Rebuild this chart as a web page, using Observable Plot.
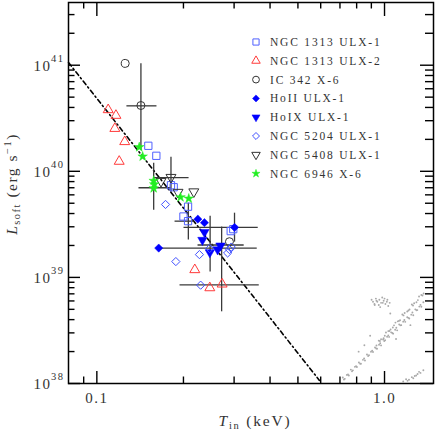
<!DOCTYPE html>
<html><head><meta charset="utf-8">
<script src="https://cdn.jsdelivr.net/npm/d3@7"></script>
<script src="https://cdn.jsdelivr.net/npm/@observablehq/plot@0.6"></script>
<style>
html,body{margin:0;padding:0;background:#fff;}
#chart{width:436px;height:433px;}
</style></head><body><div id="chart"></div>
<script>
// ---------- data ----------
const seriesNames = ["NGC 1313 ULX-1","NGC 1313 ULX-2","IC 342 X-6","HoII ULX-1","HoIX ULX-1","NGC 5204 ULX-1","NGC 5408 ULX-1","NGC 6946 X-6"];

const n1313u1T = [0.151, 0.161, 0.181, 0.185, 0.2075, 0.200, 0.2075, 0.292, 0.298];
const n1313u1L = [1.74e40, 1.40e40, 7.39e39, 7.08e39, 4.64e39, 3.75e39, 3.39e39, 2.73e39, 2.85e39];

const n1313u2T = [0.1095, 0.1165, 0.1155, 0.125, 0.1196, 0.219, 0.247, 0.2726];
const n1313u2L = [3.80e40, 3.36e40, 2.53e40, 1.90e40, 1.24e40, 1.18e39, 7.97e38, 8.64e38];

const ic342T = [0.1255, 0.1423, 0.289];
const ic342L = [1.04e41, 4.17e40, 2.17e39];

const hoIIT = [0.2244, 0.2366, 0.301, 0.1641];
const hoIIL = [3.54e39, 3.28e39, 2.96e39, 1.89e39];

const hoIXT = [0.2366, 0.2328, 0.247, 0.263, 0.269];
const hoIXL = [2.67e39, 2.25e39, 1.72e39, 1.83e39, 1.99e39];

const n5204T = [0.1733, 0.1882, 0.2273, 0.2295, 0.2466, 0.2849, 0.2891, 0.2931];
const n5204L = [4.87e39, 1.41e39, 1.64e39, 8.45e38, 1.87e39, 1.70e39, 1.83e39, 1.93e39];

const n5408T = [0.1671, 0.181, 0.1915, 0.2173];
const n5408L = [8.05e39, 8.78e39, 6.35e39, 6.42e39];

const n6946T = [0.1404, 0.1443, 0.1576, 0.1583, 0.1576, 0.1954, 0.2087];
const n6946L = [1.69e40, 1.38e40, 8.14e39, 7.55e39, 6.93e39, 5.70e39, 5.54e39];

// error bars
const hbarL   = [4.14e40, 8.73e39, 7.00e39, 3.39e39, 2.96e39, 2.02e39, 1.89e39, 8.50e38];
const hbarTlo = [0.1272, 0.158, 0.1401, 0.187, 0.2009, 0.2248, 0.1644, 0.1946];
const hbarThi = [0.1618, 0.2092, 0.181, 0.2178, 0.3639, 0.3252, 0.361, 0.3669];

const vbarT   = [0.1423, 0.181, 0.1576, 0.208, 0.301, 0.2476, 0.2715];
const vbarLlo = [1.575e40, 6.35e39, 4.30e39, 2.25e39, 2.15e39, 1.127e39, 4.74e38];
const vbarLhi = [1.033e41, 1.354e40, 1.189e40, 5.01e39, 4.03e39, 3.78e39, 2.98e39];

// dash-dot relation
const relT = [0.0797, 0.594];
const relL = [1.06e41, 1.07e38];

// grey comparison sample (log10 values)
const grayLogT = [
 -0.145,-0.138,-0.131,-0.124,-0.117,-0.110,-0.103,-0.096,-0.089,-0.082,-0.075,-0.068,-0.061,-0.054,
 -0.047,-0.040,-0.033,-0.026,-0.019,-0.012,-0.005,0.002,0.009,0.016,0.023,0.030,0.037,0.044,0.051,
 0.058,0.065,0.072,0.079,0.086,0.093,0.100,0.107,0.114,0.121,0.128,0.135,
 -0.141,-0.127,-0.113,-0.099,-0.085,-0.071,-0.057,-0.043,-0.029,-0.015,-0.001,0.013,0.027,0.041,
 0.055,0.069,0.083,0.097,0.111,0.125,
 -0.028,-0.020,-0.012,-0.003,0.005,0.013,0.021,0.029,0.038,0.046,0.054,0.062,0.070,0.079,0.087,
 0.095,0.103,0.111,0.120,0.128,0.136,
 -0.016,0.001,0.017,0.033,0.050,0.066,0.083,0.099,0.116,0.132,
 -0.045,-0.035,-0.030,-0.025,-0.020,-0.018,-0.012,-0.008,-0.003,0.003,0.008,0.013,-0.040,0.000,-0.015,0.018,
 -0.028,-0.006,0.010,-0.034,
 0.065,0.075,0.085,0.095,0.105,0.115,0.125,0.135,0.100,0.120,0.080,0.110,
 -0.090,-0.050,0.040,0.090,-0.070,0.020
];
const grayLogL = [
 38.056,38.044,38.081,38.075,38.131,38.124,38.157,38.155,38.198,38.186,38.223,38.217,38.273,38.266,
 38.299,38.297,38.340,38.328,38.365,38.359,38.415,38.408,38.441,38.439,38.482,38.470,38.507,38.501,38.557,
 38.550,38.583,38.581,38.624,38.612,38.649,38.643,38.699,38.692,38.725,38.723,38.766,
 38.038,38.085,38.115,38.162,38.187,38.236,38.259,38.309,38.331,38.379,38.401,38.454,38.476,38.526,
 38.548,38.598,38.619,38.669,38.690,38.741,
 38.358,38.404,38.417,38.426,38.480,38.494,38.509,38.528,38.574,38.586,38.596,38.650,38.664,38.679,38.698,
 38.744,38.756,38.766,38.820,38.834,38.848,
 38.400,38.450,38.495,38.548,38.590,38.642,38.688,38.735,38.786,38.830,
 38.79,38.75,38.80,38.77,38.74,38.79,38.76,38.81,38.78,38.75,38.77,38.73,38.77,38.80,38.72,38.76,
 38.78,38.76,38.79,38.74,
 38.02,38.04,38.035,38.06,38.07,38.09,38.10,38.125,38.05,38.11,38.025,38.075,
 38.30,38.45,38.42,38.55,38.36,38.66
];

// axis ticks
const xTickLabels = [0.1, 1.0];
const xMinorTicks = [0.09, 0.2, 0.3, 0.4, 0.5, 0.6, 0.7, 0.8, 0.9];
const yMajorTicks = [1e38, 1e39, 1e40, 1e41];
const yMinorTicks = [];
[38, 39, 40, 41].forEach(e => [2,3,4,5,6,7,8,9].forEach(m => { const v = m * 10 ** e; if (v < 3.9e41) yMinorTicks.push(v); }));

// ---------- layout / style ----------
const W = 436, H = 433, mL = 68, mR = 3, mT = 2, mB = 50;
const innerW = W - mL - mR, innerH = H - mT - mB;
const FONT = "'Liberation Serif', 'DejaVu Serif', serif";

const symbolTriangleDown = {
  draw(context, size) {
    const y = -Math.sqrt(size / (Math.sqrt(3) * 3));
    context.moveTo(0, -y * 2);
    context.lineTo(-Math.sqrt(3) * y, y);
    context.lineTo(Math.sqrt(3) * y, y);
    context.closePath();
  }
};
const symbolDiamond2 = d3.symbolDiamond2 || {
  draw(context, size) {
    const r = Math.sqrt(size) * 0.62625;
    context.moveTo(0, -r); context.lineTo(r, 0); context.lineTo(0, r); context.lineTo(-r, 0); context.closePath();
  }
};

const styles = [
  {symbol: d3.symbolSquare,    color: "#5060ff", filled: false, r: 4.1},
  {symbol: d3.symbolTriangle,  color: "#ff3a3a", filled: false, r: 3.7},
  {symbol: d3.symbolCircle,    color: "#333333", filled: false, r: 4.0},
  {symbol: symbolDiamond2,     color: "#0000ff", filled: true,  r: 3.7},
  {symbol: symbolTriangleDown, color: "#0000ff", filled: true,  r: 3.5},
  {symbol: symbolDiamond2,     color: "#4050ff", filled: false, r: 3.7},
  {symbol: symbolTriangleDown, color: "#333333", filled: false, r: 3.7},
  {symbol: d3.symbolStar,      color: "#22ee22", filled: true,  r: 3.0}
];

const seriesT = [n1313u1T, n1313u2T, ic342T, hoIIT, hoIXT, n5204T, n5408T, n6946T];
const seriesL = [n1313u1L, n1313u2L, ic342L, hoIIL, hoIXL, n5204L, n5408L, n6946L];

const hbars = hbarL.map((L, i) => ({L, lo: hbarTlo[i], hi: hbarThi[i]}));
const vbars = vbarT.map((T, i) => ({T, lo: vbarLlo[i], hi: vbarLhi[i]}));
const relRows = relT.map((T, i) => ({T, L: relL[i]}));
const grayRows = grayLogT.map((t, i) => ({T: 10 ** t, L: 10 ** grayLogL[i]}));

const dotMarks = seriesNames.map((name, i) => {
  const rows = seriesT[i].map((T, j) => ({T, L: seriesL[i][j]}));
  const s = styles[i];
  return Plot.dot(rows, {
    x: "T", y: "L", symbol: s.symbol, r: s.r,
    fill: s.filled ? s.color : "none",
    stroke: s.color,
    strokeWidth: s.filled ? 0.5 : 1.0
  });
});

const tk = {stroke: "black", strokeWidth: 1.4};
const plot = Plot.plot({
  width: W, height: H,
  marginLeft: mL, marginRight: mR, marginTop: mT, marginBottom: mB,
  x: {type: "log", domain: [0.0797, 1.48], axis: null},
  y: {type: "log", domain: [1e38, 3.9e41], axis: null},
  style: {fontFamily: FONT, background: "#fff", letterSpacing: "1.5px"},
  marks: [
    Plot.dot(grayRows, {x: "T", y: "L", r: 0.95, fill: "#a9a9a9", stroke: "none"}),
    Plot.line(relRows, {x: "T", y: "L", stroke: "black", strokeWidth: 1.6, strokeDasharray: "4.5,3,1.3,3"}),
    Plot.ruleY(hbars, {y: "L", x1: "lo", x2: "hi", stroke: "#3a3a3a", strokeWidth: 1.3}),
    Plot.ruleX(vbars, {x: "T", y1: "lo", y2: "hi", stroke: "#3a3a3a", strokeWidth: 1.3}),
    ...dotMarks,
    // ticks (inward)
    Plot.ruleX(xTickLabels, {x: d => d, insetTop: innerH - 12, ...tk}),
    Plot.ruleX(xTickLabels, {x: d => d, insetBottom: innerH - 14, ...tk}),
    Plot.ruleX(xMinorTicks, {x: d => d, insetTop: innerH - 6.5, ...tk}),
    Plot.ruleX(xMinorTicks, {x: d => d, insetBottom: innerH - 6.5, ...tk}),
    Plot.ruleY(yMajorTicks, {y: d => d, insetRight: innerW - 12, ...tk}),
    Plot.ruleY(yMajorTicks, {y: d => d, insetLeft: innerW - 13, ...tk}),
    Plot.ruleY(yMinorTicks, {y: d => d, insetRight: innerW - 6.5, ...tk}),
    Plot.ruleY(yMinorTicks, {y: d => d, insetLeft: innerW - 8, ...tk}),
    // tick labels
    Plot.text(xTickLabels, {x: d => d, frameAnchor: "bottom", dy: 19, text: d => d.toFixed(1), fontSize: 15, fill: "#333"}),
    Plot.text(yMajorTicks, {y: d => d, frameAnchor: "left", dx: -17, dy: 1, textAnchor: "end", text: d => "10", fontSize: 15, fill: "#333"}),
    Plot.text(yMajorTicks, {y: d => d, frameAnchor: "left", dx: -17.5, dy: -7, textAnchor: "start", text: d => String(Math.round(Math.log10(d))), fontSize: 10.5, fill: "#333"}),
    Plot.frame({stroke: "black", strokeWidth: 1.5})
  ]
});

document.getElementById("chart").appendChild(plot);

// ---------- overlay: legend + axis titles ----------
const svg = d3.select(plot);
const lg = svg.append("g")
  .attr("font-family", FONT).attr("font-size", 11.5).attr("letter-spacing", "1.8px")
  .attr("fill", "#333").attr("text-anchor", "start");
seriesNames.forEach((name, i) => {
  const y = 42 + i * 18.8;
  const s = styles[i];
  const size = Math.PI * (s.r * 0.85) ** 2;
  lg.append("path")
    .attr("transform", `translate(256,${y})`)
    .attr("d", d3.symbol(s.symbol, size)())
    .attr("fill", s.filled ? s.color : "none")
    .attr("stroke", s.color)
    .attr("stroke-width", s.filled ? 0.5 : 1);
  lg.append("text").attr("x", 270).attr("y", y + 4).attr("text-anchor", "start").text(name);
});

// x title
const xt = svg.append("text")
  .attr("x", 255).attr("y", 426).attr("text-anchor", "middle")
  .attr("font-family", FONT).attr("font-size", 15.5).attr("letter-spacing", "1.8px").attr("fill", "#333");
xt.append("tspan").attr("font-style", "italic").text("T");
xt.append("tspan").attr("font-size", 10.5).attr("dy", 3).text("in");
xt.append("tspan").attr("dy", -3).text(" (keV)");

// y title
const yt = svg.append("text")
  .attr("transform", "translate(17,184) rotate(-90)").attr("text-anchor", "middle")
  .attr("font-family", FONT).attr("font-size", 15.5).attr("letter-spacing", "1.5px").attr("fill", "#333");
yt.append("tspan").attr("font-style", "italic").text("L");
yt.append("tspan").attr("font-size", 10.5).attr("dy", 3).text("soft");
yt.append("tspan").attr("dy", -3).text(" (erg s");
yt.append("tspan").attr("font-size", 10.5).attr("dy", -6).text("\u22121");
yt.append("tspan").attr("dy", 6).text(")");
</script>
</body></html>
